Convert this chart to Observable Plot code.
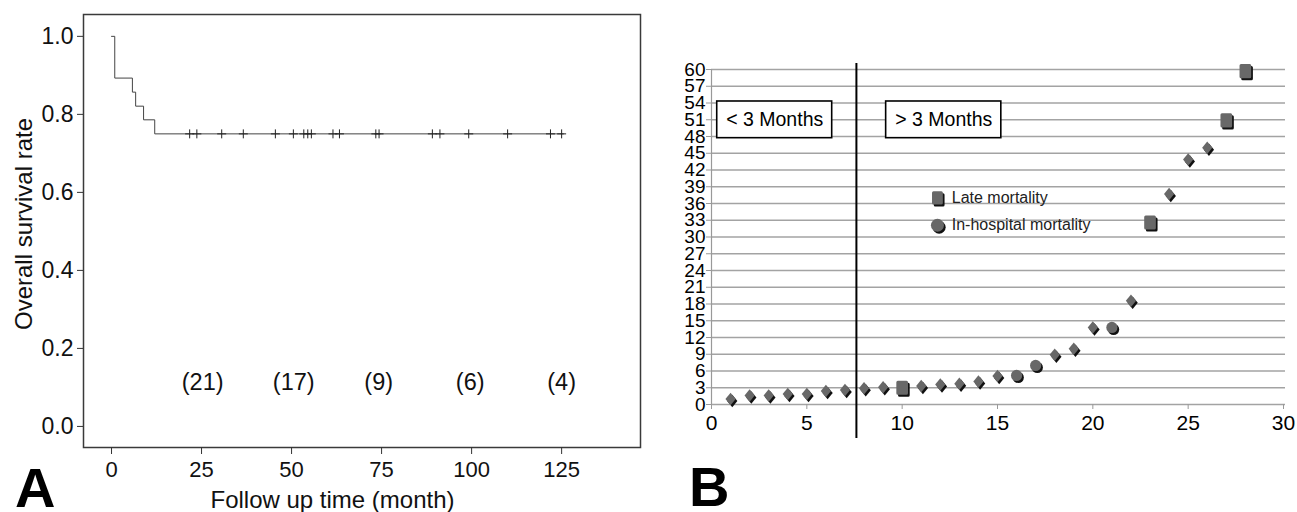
<!DOCTYPE html>
<html><head><meta charset="utf-8">
<script src="https://cdn.jsdelivr.net/npm/d3@7"></script>
<script src="https://cdn.jsdelivr.net/npm/@observablehq/plot@0.6"></script>
<style>
html,body{margin:0;padding:0;background:#fff;width:1297px;height:512px;overflow:hidden;}
#a{position:absolute;left:0;top:0;}
#b{position:absolute;left:640px;top:0;}
.panel{position:absolute;font:bold 56px "Liberation Sans",Arial,sans-serif;line-height:44px;color:#000;}
</style></head><body>
<div id="a"></div><div id="b"></div>
<div class="panel" style="left:15px;top:466px">A</div>
<div class="panel" style="left:689px;top:465px">B</div>
<script>
// ---------- Panel A data (Kaplan-Meier) ----------
const kmTime = [0, 0.9, 5.8, 6.7, 8.9, 12, 125.5];
const kmSurv = [1, 0.893, 0.857, 0.821, 0.786, 0.75, 0.75];
const censorTime = [21.7, 23.7, 30.6, 36.6, 45.5, 50.5, 53.4, 54.5, 55.5, 61.5, 63.3, 73.4, 74.3, 89.1, 91.2, 99.2, 110, 121.9, 125];
const censorSurv = 0.75;
const riskTime = [25.3, 50.6, 74.2, 99.6, 125];
const riskLabel = ["(21)", "(17)", "(9)", "(6)", "(4)"];
const riskLevel = 0.1115;
const xTicksA = [0, 25, 50, 75, 100, 125];
const yTicksA = [0, 0.2, 0.4, 0.6, 0.8, 1.0];
const xTitleA = "Follow up time (month)";
const yTitleA = "Overall survival rate";

// ---------- Panel B data ----------
const patient = [1, 2, 3, 4, 5, 6, 7, 8, 9, 10, 11, 12, 13, 14, 15, 16, 17, 18, 19, 20, 21, 22, 23, 24, 25, 26, 27, 28];
const value = [1.0, 1.6, 1.6, 1.9, 1.9, 2.4, 2.6, 2.9, 3.1, 3.0, 3.3, 3.6, 3.7, 4.1, 5.1, 5.2, 7.0, 8.9, 10.0, 13.8, 13.8, 18.6, 32.6, 37.7, 43.9, 46.0, 50.9, 59.7];
const kind = ["survivor", "survivor", "survivor", "survivor", "survivor", "survivor", "survivor", "survivor", "survivor", "late",
              "survivor", "survivor", "survivor", "survivor", "survivor", "hospital", "hospital", "survivor", "survivor", "survivor",
              "hospital", "survivor", "late", "survivor", "survivor", "survivor", "late", "late"];
const xTicksB = [0, 5, 10, 15, 20, 25, 30];
const yTicksB = [0, 3, 6, 9, 12, 15, 18, 21, 24, 27, 30, 33, 36, 39, 42, 45, 48, 51, 54, 57, 60];
const cutoff = 7.6;
const periodLabels = ["< 3 Months", "> 3 Months"];
const periodBoxX1 = [0.3, 9.16];
const periodBoxX2 = [6.33, 15.2];
const periodBoxY1 = 47.7, periodBoxY2 = 54.27;
const legendLabels = ["Late mortality", "In-hospital mortality"];
const legendKinds = ["late", "hospital"];
const legendX = 11.85, legendTextX = 12.6;
const legendY = [37.0, 32.1];

const FONT = '"Liberation Sans", Arial, sans-serif';

// ---------- Panel A ----------
const km = kmTime.map((t, i) => ({t, s: kmSurv[i]}));
const censors = censorTime.map(t => ({t, s: censorSurv}));
const risk = riskTime.map((t, i) => ({t, label: riskLabel[i]}));

const plotA = Plot.plot({
  width: 660, height: 512,
  marginLeft: 83, marginRight: 20, marginTop: 14, marginBottom: 65,
  x: {domain: [-7.78, 146.9]},
  y: {domain: [-0.054, 1.056]},
  style: {fontFamily: FONT, color: "#111", background: "transparent", overflow: "visible"},
  marks: [
    Plot.frame({stroke: "#3a3a3a", strokeWidth: 1.5}),
    Plot.axisX({ticks: xTicksA, tickSize: 7, tickPadding: 7, fontSize: 22, label: null, stroke: "#333"}),
    Plot.axisY({ticks: yTicksA, tickFormat: d3.format(".1f"), tickSize: 6, tickPadding: 4, fontSize: 23, label: null, stroke: "#333"}),
    Plot.line(km, {x: "t", y: "s", curve: "step-after", stroke: "#444", strokeWidth: 1}),
    Plot.dot(censors, {x: "t", y: "s", symbol: "plus", r: 3, stroke: "#222", strokeWidth: 1}),
    Plot.text(risk, {x: "t", y: () => riskLevel, text: "label", fontSize: 23.5}),
    Plot.text([xTitleA], {frameAnchor: "bottom", textAnchor: "middle", lineAnchor: "middle", dx: -29.5, dy: 53, fontSize: 24}),
    Plot.text([yTitleA], {frameAnchor: "left", textAnchor: "middle", lineAnchor: "middle", rotate: -90, dx: -59, dy: -7, fontSize: 24})
  ]
});
document.getElementById("a").append(plotA);

// ---------- Panel B ----------
const diamondSym = {draw(ctx, size) {
  const h = Math.sqrt(size) * 0.75, w = h * 0.82;
  ctx.moveTo(0, -h); ctx.lineTo(w, 0); ctx.lineTo(0, h); ctx.lineTo(-w, 0); ctx.closePath();
}};
const roundSq = {draw(ctx, size) {
  const s = Math.sqrt(size), w = s * 0.47, h = s * 0.57, c = 1.5;
  ctx.moveTo(-w + c, -h); ctx.lineTo(w - c, -h); ctx.arcTo(w, -h, w, -h + c, c);
  ctx.lineTo(w, h - c); ctx.arcTo(w, h, w - c, h, c);
  ctx.lineTo(-w + c, h); ctx.arcTo(-w, h, -w, h - c, c);
  ctx.lineTo(-w, -h + c); ctx.arcTo(-w, -h, -w + c, -h, c); ctx.closePath();
}};

const pts = patient.map((p, i) => ({x: p, y: value[i], kind: kind[i]}));
const byKind = k => pts.filter(d => d.kind === k);
const boxes = periodLabels.map((label, i) => ({label, x1: periodBoxX1[i], x2: periodBoxX2[i], xm: (periodBoxX1[i] + periodBoxX2[i]) / 2}));
const legend = legendLabels.map((label, i) => ({label, kind: legendKinds[i], y: legendY[i]}));

const SHADOW = "#111", GRAY = "#686868";
function markerPair(data, symbol, r, extra = {}) {
  return [
    Plot.dot(data, {x: "x", y: "y", symbol, r, fill: SHADOW, dx: 1.7, dy: 2, ...extra}),
    Plot.dot(data, {x: "x", y: "y", symbol, r, fill: GRAY, ...extra})
  ];
}

const plotB = Plot.plot({
  width: 657, height: 512,
  marginLeft: 71, marginRight: 14, marginTop: 69, marginBottom: 108,
  x: {domain: [0, 30]},
  y: {domain: [0, 60]},
  style: {fontFamily: FONT, color: "#000", background: "transparent", overflow: "visible"},
  marks: [
    Plot.ruleY(yTicksB, {stroke: "#a3a3a3", strokeWidth: 1.6, insetRight: -2}),
    Plot.ruleX([0], {stroke: "#999", strokeWidth: 1.2}),
    Plot.axisY({ticks: yTicksB, tickSize: 5, tickPadding: 1, fontSize: 19, stroke: "#999", label: null}),
    Plot.axisX({ticks: xTicksB, tickSize: 5, tickPadding: 6, fontSize: 21, stroke: "#999", label: null}),
    Plot.ruleX([cutoff], {stroke: "#000", strokeWidth: 2, insetTop: -6, insetBottom: -34}),
    Plot.rect(boxes, {x1: "x1", x2: "x2", y1: () => periodBoxY1, y2: () => periodBoxY2, fill: "white", stroke: "#000", strokeWidth: 1.6}),
    Plot.text(boxes, {x: "xm", y: () => (periodBoxY1 + periodBoxY2) / 2, text: "label", fontSize: 19.5}),
    ...markerPair(byKind("survivor"), diamondSym, 4.7),
    ...markerPair(byKind("late"), roundSq, 7),
    ...markerPair(byKind("hospital"), "circle", 5.6),
    // legend
    ...markerPair(legend.filter(d => d.kind === "late").map(d => ({...d, x: legendX})), roundSq, 6.5),
    ...markerPair(legend.filter(d => d.kind === "hospital").map(d => ({...d, x: legendX})), "circle", 6.5),
    Plot.text(legend, {x: () => legendTextX, y: "y", text: "label", textAnchor: "start", fontSize: 16, fill: "#222"})
  ]
});
document.getElementById("b").append(plotB);
</script>
</body></html>
